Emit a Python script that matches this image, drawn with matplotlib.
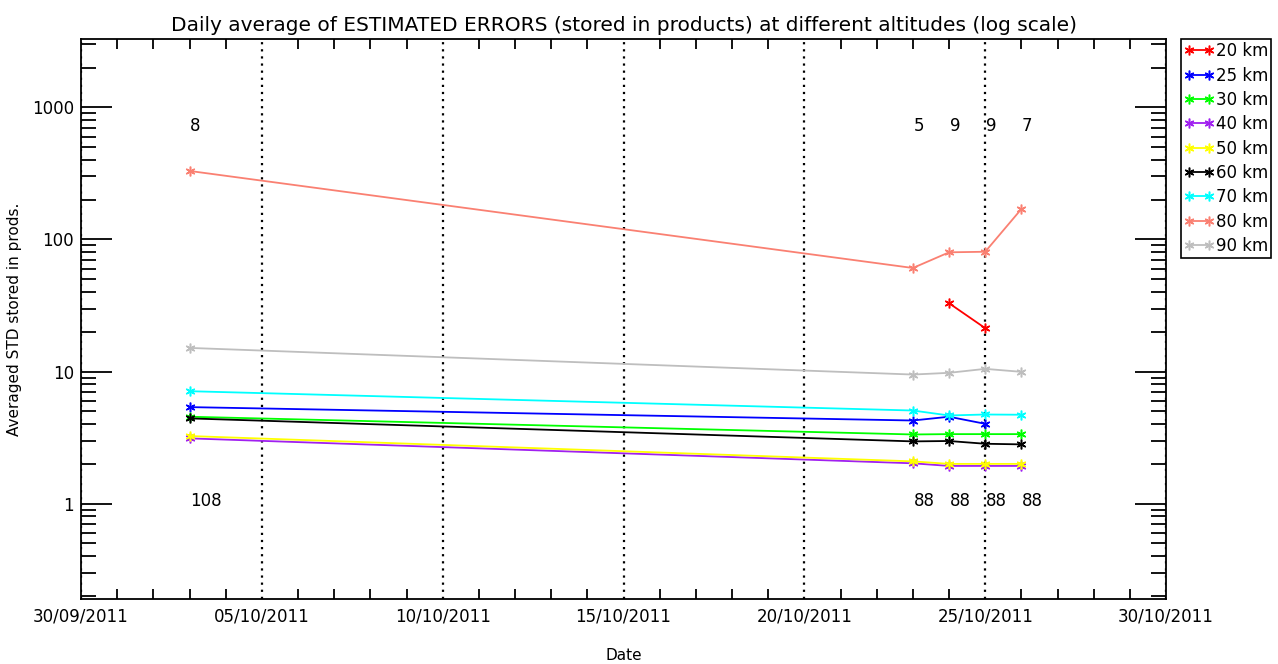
#Daily average of estimated errors at different altitudes, log scale, IDL-like look

import datetime as dt
import numpy as np
import matplotlib
matplotlib.use('Agg')
from matplotlib import pyplot as plt
import matplotlib.dates as mdates
from matplotlib.ticker import LogLocator, FixedLocator, NullFormatter, FuncFormatter

nan = np.nan

#Dates of the daily averages
days = [dt.datetime(2011, 10, 3), dt.datetime(2011, 10, 23), dt.datetime(2011, 10, 24),
        dt.datetime(2011, 10, 25), dt.datetime(2011, 10, 26)]

#Averaged STD per altitude
std_20 = [nan, nan, 32.9, 21.3, nan]
std_25 = [5.38, 4.26, 4.55, 4.02, nan]
std_30 = [4.55, 3.34, 3.36, 3.36, 3.36]
std_40 = [3.12, 2.02, 1.93, 1.93, 1.93]
std_50 = [3.25, 2.09, 2.00, 2.00, 2.00]
std_60 = [4.42, 2.96, 2.98, 2.84, 2.81]
std_70 = [7.10, 5.07, 4.65, 4.73, 4.71]
std_80 = [330.0, 60.8, 79.9, 80.7, 170.0]
std_90 = [15.1, 9.49, 9.78, 10.48, 9.95]

altitudes = ['20 km', '25 km', '30 km', '40 km', '50 km', '60 km', '70 km', '80 km', '90 km']
colours = ['#ff0000', '#0000ff', '#00ff00', '#a020f0', '#ffff00', '#000000', '#00ffff', '#fa8072', '#bebebe']
series = [std_20, std_25, std_30, std_40, std_50, std_60, std_70, std_80, std_90]

#Number of products per day (top and bottom annotations)
n_top = ['8', '5', '9', '9', '7']
n_bottom = ['108', '88', '88', '88', '88']

x_start = dt.datetime(2011, 9, 30)
x_end = dt.datetime(2011, 10, 30)


fig = plt.figure(figsize=(12.78, 6.64), dpi=100)
ax = fig.add_axes([0.0634, 0.098, 0.849, 0.8435])

xd = mdates.date2num(days)

for vals, col, lab in zip(series, colours, altitudes):
    ax.plot(xd, vals, color=col, lw=1.3, marker=(6, 2, 0), ms=7, mew=1.1, label=lab)

#Product counts
for x, t, b in zip(xd, n_top, n_bottom):
    ax.text(x + 0.02, 720, t, ha='left', va='center', fontsize=12)
    ax.text(x + 0.02, 1.05, b, ha='left', va='center', fontsize=12)

ax.set_yscale('log')
ax.set_ylim(0.19, 3300)
ax.set_xlim(mdates.date2num(x_start), mdates.date2num(x_end))

#Axis ticks: majors every 5 days drawn as dotted grid, minors daily
major_days = [x_start + dt.timedelta(days=5 * k) for k in range(7)]
ax.xaxis.set_major_locator(FixedLocator(mdates.date2num(major_days)))
ax.xaxis.set_minor_locator(mdates.DayLocator())
ax.xaxis.set_major_formatter(mdates.DateFormatter('%d/%m/%Y'))
ax.grid(axis='x', which='major', color='k', linestyle=(0, (1, 2.2)), lw=1.6)

ax.yaxis.set_major_locator(LogLocator(base=10, numticks=10))
ax.yaxis.set_minor_locator(LogLocator(base=10, subs=np.arange(2, 10), numticks=20))
ax.yaxis.set_minor_formatter(NullFormatter())
ax.yaxis.set_major_formatter(FuncFormatter(lambda v, p: '%g' % v if v >= 1 else ''))

ax.tick_params(axis='x', which='major', length=0, pad=6, labelsize=12)
ax.tick_params(axis='x', which='minor', direction='in', length=7, width=1.3, top=True)
ax.tick_params(axis='y', which='major', direction='in', length=22, width=1.3, right=True, labelsize=12, pad=5)
ax.tick_params(axis='y', which='minor', direction='in', length=11, width=1.3, right=True)

for s in ax.spines.values():
    s.set_linewidth(1.3)

ax.set_title('Daily average of ESTIMATED ERRORS (stored in products) at different altitudes (log scale)',
             fontsize=14.5, pad=6)
ax.set_xlabel('Date', fontsize=11)
ax.set_ylabel('Averaged STD stored in prods.', fontsize=11)
ax.xaxis.set_label_coords(0.5, -0.088)
ax.yaxis.set_label_coords(-0.054, 0.5)

leg = ax.legend(loc='upper left', bbox_to_anchor=(1.0135, 1.0), fontsize=12, handlelength=1.8,
                handletextpad=0.1, labelspacing=0.38, borderaxespad=0, borderpad=0.2,
                fancybox=False, numpoints=2, edgecolor='k', framealpha=1)
leg.get_frame().set_linewidth(1.2)

plt.savefig('out.png', dpi=100)
